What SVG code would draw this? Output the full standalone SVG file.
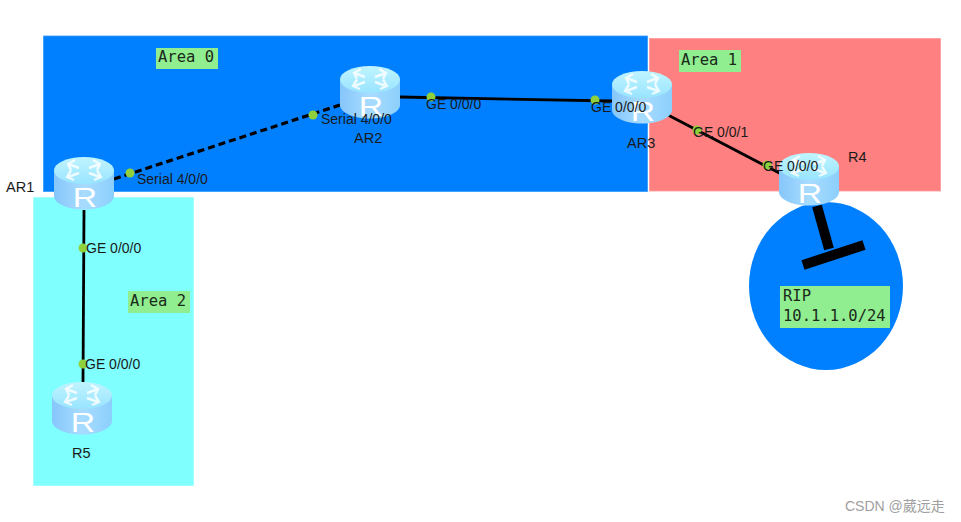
<svg xmlns="http://www.w3.org/2000/svg" width="961" height="522" viewBox="0 0 961 522">
<style>
.lbl{font-family:"Liberation Sans",Arial,sans-serif;font-size:14px;fill:#1a1a1a}
.name{font-family:"Liberation Sans",Arial,sans-serif;font-size:14.500px;fill:#1a1a1a}
.mono{font-family:"DejaVu Sans Mono",monospace;font-size:15.500px;fill:#1a2a1a}
.tag{fill:#90ee90}
.area{stroke-width:1.500;stroke-opacity:.35;stroke:#fff}
.link{stroke:#000;stroke-width:2.800;fill:none}
.dash{stroke-width:3.200;stroke-dasharray:7 4}
.dot{fill:#8ed13c}
.rip{stroke:#000;stroke-width:10;fill:none}
.ar{fill:none;stroke:#fff;stroke-width:2.400;stroke-opacity:.8}
</style>
<defs>
<linearGradient id="side" x1="0" x2="1" y1="0" y2="0">
<stop offset="0" stop-color="#86c6fa"/>
<stop offset=".5" stop-color="#a8dcff"/>
<stop offset="1" stop-color="#8ccffc"/>
</linearGradient>
<linearGradient id="top" x1="0" x2="0" y1="0" y2="1">
<stop offset="0" stop-color="#c0f4ff"/>
<stop offset="1" stop-color="#98e4ff"/>
</linearGradient>
<g id="router">
<path d="M0 13.500V39C0 46.500 13.400 52.500 30 52.500S60 46.500 60 39V13.500Z" fill="url(#side)"/>
<ellipse cx="30" cy="13.500" rx="30" ry="13.500" fill="url(#top)"/>
<g class="ar">
<path d="M14 7l11 4M21 3l-7 4 3 6"/>
<path d="M46 7l-11 4M39 3l7 4-3 6"/>
<path d="M14 20l11-4M17 13.500l-4 6.500 7 3"/>
<path d="M46 20l-11-4M43 13.500l4 6.500-7 3"/>
</g>
<text transform="translate(31 50) scale(1.250 1)" text-anchor="middle" font-family="'Liberation Sans',Arial,sans-serif" font-size="27" fill="#fff">R</text>
</g>
</defs>
<rect width="961" height="522" fill="#fff"/>
<g id="areas">
<rect id="area0" class="area" x="43" y="35.500" width="605" height="156.500" fill="#0080ff"/>
<rect id="area1" class="area" x="649" y="38" width="292" height="153.500" fill="#ff8080"/>
<rect id="area2" class="area" x="33" y="197" width="161" height="289" fill="#80ffff"/>
<ellipse id="rip-area" cx="826" cy="286" rx="77" ry="84" fill="#0080ff"/>
</g>
<g id="connectors">
<path class="link dash" d="M114 179L340 105"/>
<path class="link" d="M400 97L612 101"/>
<path class="link" d="M668 115L785 176"/>
<path class="link" d="M84 210L83 382"/>
<path class="rip" d="M817 206L829 249"/>
<path class="rip" d="M803 265L864 245"/>
</g>
<g id="dots">
<circle class="dot" cx="130" cy="173" r="4.500"/>
<circle class="dot" cx="313" cy="115" r="4.500"/>
<circle class="dot" cx="431" cy="97" r="4.500"/>
<circle class="dot" cx="595" cy="100" r="4.500"/>
<circle class="dot" cx="697" cy="130" r="4.500"/>
<circle class="dot" cx="767" cy="165" r="4.500"/>
<circle class="dot" cx="83" cy="248" r="4.500"/>
<circle class="dot" cx="83" cy="364" r="4.500"/>
</g>
<g id="AR1"><use href="#router" x="54" y="157"/><text class="name" x="6" y="192">AR1</text></g>
<g id="AR2"><use href="#router" x="340" y="66"/><text class="name" x="354" y="143">AR2</text></g>
<g id="AR3"><use href="#router" x="612" y="71"/><text class="name" x="627" y="148">AR3</text></g>
<g id="R4"><use href="#router" x="779" y="153"/><text class="name" x="848" y="162">R4</text></g>
<g id="R5"><use href="#router" x="52" y="382"/><text class="name" x="72" y="458">R5</text></g>
<g id="port-labels">
<text class="lbl" x="137" y="184">Serial 4/0/0</text>
<text class="lbl" x="321" y="124">Serial 4/0/0</text>
<text class="lbl" x="426" y="109">GE 0/0/0</text>
<text class="lbl" x="591" y="112">GE 0/0/0</text>
<text class="lbl" x="693" y="137">GE 0/0/1</text>
<text class="lbl" x="763" y="171">GE 0/0/0</text>
<text class="lbl" x="86" y="253">GE 0/0/0</text>
<text class="lbl" x="85" y="369">GE 0/0/0</text>
</g>
<g id="area-0-label"><rect class="tag" x="156" y="48" width="62" height="21"/><text class="mono" x="158" y="62">Area 0</text></g>
<g id="area-1-label"><rect class="tag" x="679" y="50" width="62" height="22"/><text class="mono" x="681" y="65">Area 1</text></g>
<g id="area-2-label"><rect class="tag" x="128" y="291" width="62" height="22"/><text class="mono" x="130" y="306">Area 2</text></g>
<g id="rip-label"><rect class="tag" x="780" y="286" width="110" height="42"/><text class="mono" x="783" y="301">RIP</text><text class="mono" x="783" y="321">10.1.1.0/24</text></g>
<text x="845" y="511" font-family="'Liberation Sans','Noto Sans CJK SC',sans-serif" font-size="14" fill="#a0a0a0">CSDN @葳远走</text>
</svg>
